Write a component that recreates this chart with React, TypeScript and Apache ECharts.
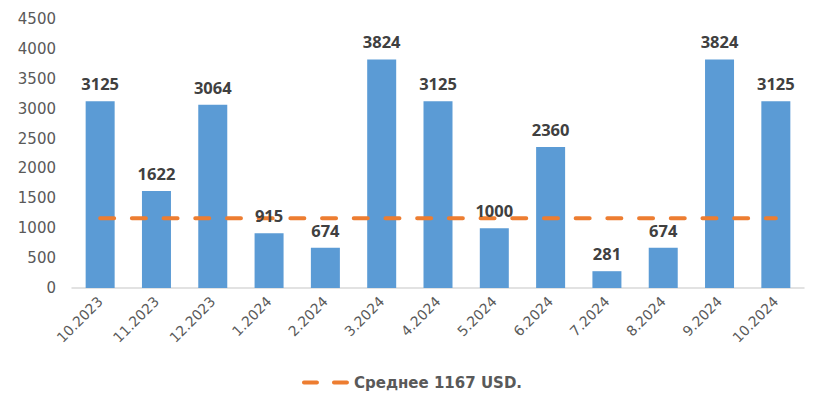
import React, { useEffect, useRef } from "react";
import * as echarts from "echarts";

const categories = [
  "10.2023", "11.2023", "12.2023", "1.2024", "2.2024", "3.2024", "4.2024",
  "5.2024", "6.2024", "7.2024", "8.2024", "9.2024", "10.2024",
];
const values = [3125, 1622, 3064, 915, 674, 3824, 3125, 1000, 2360, 281, 674, 3824, 3125];
const averageValue = 1167;
const averageName = "Среднее 1167 USD.";
const averageLine = categories.map(() => averageValue);

const FONT = "'DejaVu Sans', sans-serif";
const LABEL_FONT = "'Open Sans', sans-serif";
const LEGEND_ICON =
  "path://M2,0 H15 A2,2 0 0 1 15,4 H2 A2,2 0 0 1 2,0 Z M32,0 H45 A2,2 0 0 1 45,4 H32 A2,2 0 0 1 32,0 Z";

export default function App() {
  const ref = useRef<HTMLDivElement>(null);
  useEffect(() => {
    if (!ref.current) return;
    const chart = echarts.init(ref.current, null, { renderer: "svg" });
    chart.setOption({
      animation: false,
      backgroundColor: "#ffffff",
      textStyle: { fontFamily: FONT },
      grid: { left: 72, right: 20, top: 19, bottom: 125, containLabel: false },
      legend: {
        data: [{ name: averageName, icon: LEGEND_ICON }],
        bottom: 18,
        left: "center",
        itemWidth: 47,
        itemHeight: 4,
        itemGap: 10,
        itemStyle: { color: "#ED7D31" },
        textStyle: { color: "#595959", fontSize: 15, fontWeight: "bold", fontFamily: FONT },
      },
      xAxis: {
        type: "category",
        data: categories,
        boundaryGap: true,
        axisLine: { lineStyle: { color: "#D9D9D9", width: 1.5 } },
        axisTick: { show: false },
        axisLabel: {
          rotate: 45,
          color: "#595959",
          fontSize: 14,
          fontFamily: FONT,
          margin: 11,
          interval: 0,
        },
      },
      yAxis: {
        type: "value",
        min: 0,
        max: 4500,
        interval: 500,
        axisLine: { show: false },
        axisTick: { show: false },
        splitLine: { show: false },
        axisLabel: {
          color: "#595959",
          fontSize: 15,
          fontFamily: FONT,
          margin: 16,
          formatter: (v: number) => String(v),
        },
      },
      series: [
        {
          type: "bar",
          name: "values",
          data: values,
          barWidth: 29,
          itemStyle: { color: "#5B9BD5" },
          z: 2,
        },
        {
          type: "line",
          name: averageName,
          data: averageLine,
          symbol: "none",
          showSymbol: false,
          itemStyle: { color: "#ED7D31" },
          lineStyle: { color: "#ED7D31", width: 4, type: [14, 17.7], cap: "round" },
          z: 3,
        },
        {
          type: "bar",
          name: "labels",
          data: values,
          barWidth: 29,
          barGap: "-100%",
          itemStyle: { color: "rgba(0,0,0,0)" },
          silent: true,
          label: {
            show: true,
            position: "top",
            distance: 9,
            color: "#404040",
            fontWeight: "bold",
            fontSize: 16.5,
            fontFamily: LABEL_FONT,
          },
          z: 4,
        },
      ],
    });
    return () => chart.dispose();
  }, []);
  return (
    <div
      ref={ref}
      style={{ position: "fixed", left: 0, top: 0, width: 824, height: 413 }}
    />
  );
}
